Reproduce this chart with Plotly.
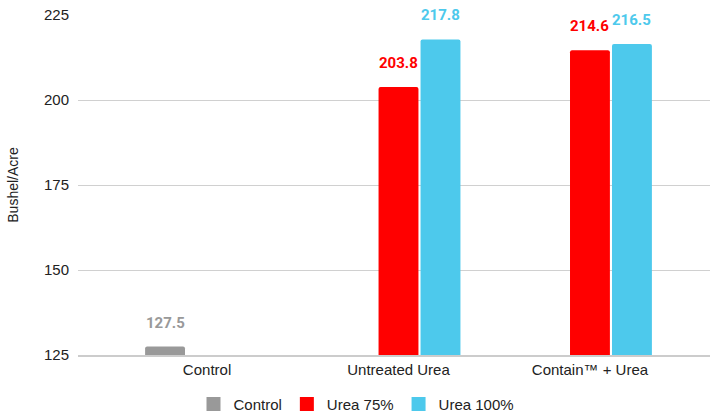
import plotly.graph_objects as go

categories = ["Control", "Untreated Urea", "Contain™ + Urea"]
series_names = ["Control", "Urea 75%", "Urea 100%"]
control_vals = [127.5, None, None]
urea75_vals = [None, 203.8, 214.6]
urea100_vals = [None, 217.8, 216.5]
colors = ["#999999", "#ff0000", "#4dc9ec"]
y_ticks = [125, 150, 175, 200, 225]

all_vals = [control_vals, urea75_vals, urea100_vals]

fig = go.Figure()
for name, vals, col in zip(series_names, all_vals, colors):
    fig.add_trace(go.Bar(
        x=categories, y=vals, name=name, marker=dict(color=col, line_width=0),
        cliponaxis=False, showlegend=False,
    ))
# legend entries with square swatches
for name, col in zip(series_names, colors):
    fig.add_trace(go.Scatter(
        x=[None], y=[None], mode="markers", name=name,
        marker=dict(symbol="square", size=14, color=col),
    ))

slot_px = 42
annotations = []
for i, (vals, col) in enumerate(zip(all_vals, colors)):
    for cat, v in zip(categories, vals):
        if v is None:
            continue
        annotations.append(dict(
            x=cat, y=v, xref="x", yref="y", text=f"<b>{v}</b>", showarrow=False,
            xshift=(i - 1) * slot_px, yshift=24, yanchor="middle",
            font=dict(family="Roboto", size=15, color=col),
        ))

fig.update_layout(
    width=713, height=415,
    margin=dict(l=78, r=3, t=15, b=60, autoexpand=False),
    paper_bgcolor="white", plot_bgcolor="white",
    barmode="group", bargap=0.342, bargroupgap=0.05,
    barcornerradius=2,
    font=dict(family="Liberation Sans, Arial", size=15, color="#222222"),
    xaxis=dict(range=[-0.674, 2.627], showgrid=False, ticks="", showline=True,
               linecolor="#cccccc", linewidth=1.5, automargin=False,
               tickfont=dict(size=15, color="#222222")),
    yaxis=dict(range=[125, 225], tickvals=y_ticks, showgrid=True, gridcolor="#d0d0d0",
               gridwidth=1, zeroline=False, ticks="", ticklabelstandoff=8, automargin=False,
               tickfont=dict(size=15, color="#222222"),
               title=dict(text="Bushel/Acre", font=dict(size=14, color="#222222"), standoff=22)),
    legend=dict(orientation="h", xref="container", x=0.500, xanchor="center",
                y=-0.145, yanchor="middle", entrywidth=0,
                font=dict(size=15, color="#222222"), traceorder="normal"),
    showlegend=True,
    annotations=annotations,
)

fig.write_html("out.html", config={"displayModeBar": False},
               post_script="document.body.style.margin='0';")
